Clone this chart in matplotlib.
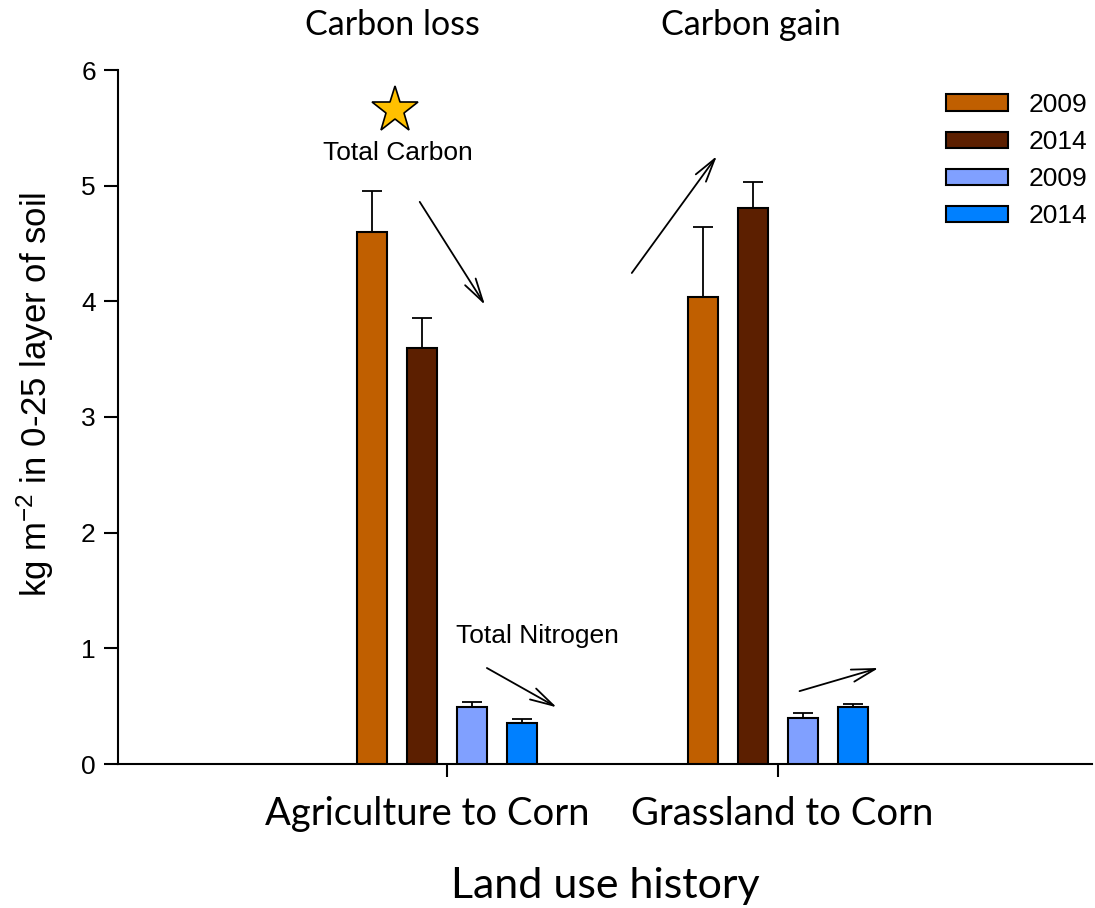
import matplotlib
matplotlib.use("Agg")
import matplotlib.pyplot as plt
from matplotlib.patches import Patch
import matplotlib.transforms as mtransforms
import numpy as np

plt.rcParams["mathtext.fontset"] = "custom"
plt.rcParams["mathtext.rm"] = "Liberation Sans"
plt.rcParams["mathtext.default"] = "regular"

groups = ["Agriculture to Corn", "Grassland to Corn"]
carbon_2009 = [4.60, 4.04]
carbon_2009_err = [0.35, 0.60]
carbon_2014 = [3.60, 4.81]
carbon_2014_err = [0.26, 0.22]
nitrogen_2009 = [0.49, 0.40]
nitrogen_2009_err = [0.045, 0.04]
nitrogen_2014 = [0.355, 0.49]
nitrogen_2014_err = [0.035, 0.025]
legend_labels = ["2009", "2014", "2009", "2014"]
y_ticks = [0, 1, 2, 3, 4, 5, 6]

colors = ["#C05F00", "#5C1F00", "#80A0FF", "#0080FF"]

W, H = 1095, 908
fig = plt.figure(figsize=(W / 100, H / 100), dpi=100)
ax = fig.add_axes([118 / W, (H - 764) / H, (1092 - 118) / W, (764 - 70) / H])

x = np.array([1.0, 2.0])
width = 0.0906
offsets = [-0.2266, -0.0755, 0.0755, 0.2266]
series = [(carbon_2009, carbon_2009_err), (carbon_2014, carbon_2014_err),
          (nitrogen_2009, nitrogen_2009_err), (nitrogen_2014, nitrogen_2014_err)]

for (vals, errs), off, col in zip(series, offsets, colors):
    ax.bar(x + off, vals, width=width, color=col, edgecolor="black", linewidth=1.5, zorder=3)
    ax.errorbar(x + off, vals, yerr=[np.zeros(len(errs)), errs], fmt="none",
                ecolor="black", elinewidth=1.3, capsize=7.5, capthick=1.3, zorder=2)

ax.set_xlim(0.006, 2.95)
ax.set_ylim(0, 6)
ax.set_yticks(y_ticks)
ax.set_yticklabels([str(t) for t in y_ticks], fontsize=19, family="Liberation Sans")
ax.set_xticks(x)
ax.set_xticklabels(groups, fontsize=27.5, family="Lato")
ax.tick_params(axis="x", direction="out", length=9, width=1.5, pad=14)
ax.tick_params(axis="y", direction="out", length=10, width=1.5, pad=6)
for s in ["top", "right"]:
    ax.spines[s].set_visible(False)
for s in ["left", "bottom"]:
    ax.spines[s].set_linewidth(1.5)

# shift category labels slightly as in reference
lbl0 = ax.get_xticklabels()[0]
lbl0.set_transform(lbl0.get_transform() + mtransforms.ScaledTranslation(-20 / 100, 0, fig.dpi_scale_trans))
lbl1 = ax.get_xticklabels()[1]
lbl1.set_transform(lbl1.get_transform() + mtransforms.ScaledTranslation(4 / 100, 0, fig.dpi_scale_trans))

ax.set_ylabel("kg m$^{-2}$ in 0-25 layer of soil", fontsize=25, family="Liberation Sans")
ax.yaxis.set_label_coords(-0.064, 0.532)
ax.set_xlabel("Land use history", fontsize=31, family="Lato", labelpad=25)

# headers
ax.text(0.835, 6.39, "Carbon loss", fontsize=24.5, family="Lato", ha="center", va="center")
ax.text(1.92, 6.39, "Carbon gain", fontsize=24.5, family="Lato", ha="center", va="center")

# star and labels
ax.plot([0.843], [5.65], marker="*", markersize=35, markerfacecolor="#FFC000",
        markeredgecolor="black", markeredgewidth=1.2, clip_on=False, zorder=5)
ax.text(0.852, 5.28, "Total Carbon", fontsize=19, family="Liberation Sans", ha="center", va="center")
ax.text(1.275, 1.107, "Total Nitrogen", fontsize=19, family="Liberation Sans", ha="center", va="center")

arrows = [((0.918, 4.86), (1.115, 3.97)),
          ((1.559, 4.245), (1.816, 5.256)),
          ((1.121, 0.83), (1.332, 0.49)),
          ((2.066, 0.63), (2.305, 0.83))]
for (x0, y0), (x1, y1) in arrows:
    ax.annotate("", xy=(x1, y1), xytext=(x0, y0),
                arrowprops=dict(arrowstyle="->,head_length=1.7,head_width=0.45",
                                color="black", lw=1.3, shrinkA=0, shrinkB=0))

handles = [Patch(facecolor=c, edgecolor="black", linewidth=1.5) for c in colors]
leg = ax.legend(handles, legend_labels, loc="upper right", bbox_to_anchor=(1.011, 0.99),
                frameon=False, prop={"family": "Liberation Sans", "size": 19},
                handlelength=2.35, handleheight=0.57, labelspacing=0.5, handletextpad=0.75,
                borderaxespad=0.2)

fig.savefig("out.png", dpi=100)
